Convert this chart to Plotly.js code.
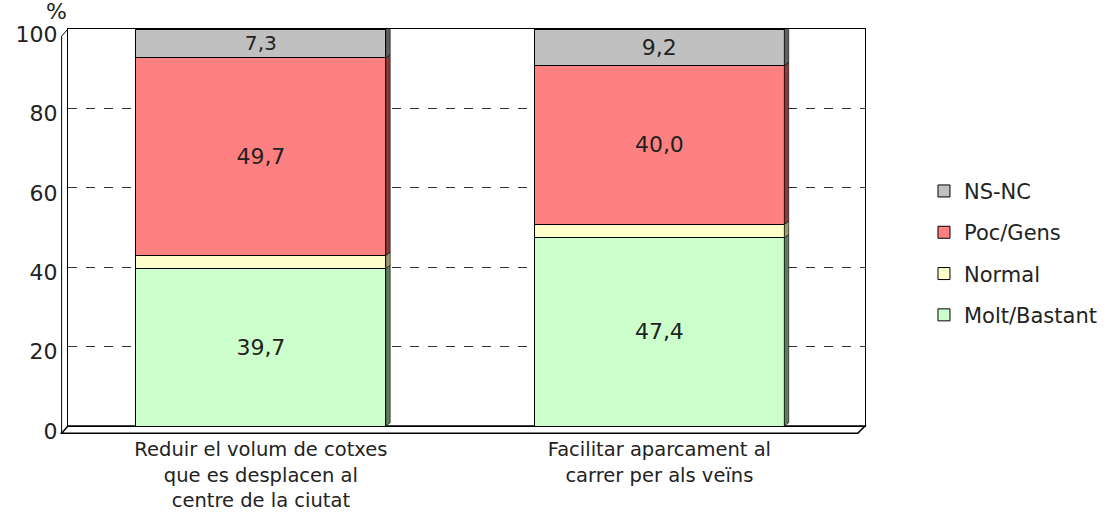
<!DOCTYPE html>
<html>
<head>
<meta charset="utf-8">
<script src="https://cdn.plot.ly/plotly-3.0.1.min.js"></script>
<style>html,body{margin:0;padding:0;background:#fff;}#chart{width:1107px;height:512px;}</style>
</head>
<body>
<div id="chart"></div>
<script>
const categories = ["Reduir el volum de cotxes<br>que es desplacen al<br>centre de la ciutat", "Facilitar aparcament al<br>carrer per als veïns"];
const seriesNames = ["Molt/Bastant", "Normal", "Poc/Gens", "NS-NC"];
const moltBastant = [39.7, 47.4];
const normal = [3.3, 3.4];
const pocGens = [49.7, 40.0];
const nsnc = [7.3, 9.2];
const showLabel = [true, false, true, true];
const yTicks = [0, 20, 40, 60, 80, 100];

const colors = ["#CCFFCC", "#FFFFCC", "#FF8080", "#C0C0C0"];
const sideColors = ["#5E7F5E", "#9A9A6A", "#8A3A3A", "#606060"];
const allSeries = [moltBastant, normal, pocGens, nsnc];
const barWidth = 0.627;
const FONT = "DejaVu Sans, Verdana, sans-serif";

const traces = allSeries.map((vals, i) => ({
  type: "bar",
  name: seriesNames[i],
  legendgroup: "g" + i,
  legendrank: 100 - i,
  x: [0, 1],
  y: vals,
  width: barWidth,
  marker: {color: colors[i], line: {color: "#000", width: 1}},
  text: showLabel[i] ? vals.map(v => v.toFixed(1).replace(".", ",")) : vals.map(() => ""),
  textposition: showLabel[i] ? "inside" : "none",
  insidetextanchor: "middle",
  textfont: {family: FONT, size: 22, color: "#222"},
  hoverinfo: "skip"
}));

// 3D side and top faces derived from the data
const dx = 0.011, dy = 0.8;
const shapes = [];
[0, 1].forEach(ci => {
  let base = 0;
  allSeries.forEach((vals, si) => {
    const top = base + vals[ci];
    shapes.push({type: "path", xref: "x", yref: "y",
      path: `M ${ci + barWidth/2} ${base} L ${ci + barWidth/2 + dx} ${base + dy} L ${ci + barWidth/2 + dx} ${top + dy} L ${ci + barWidth/2} ${top} Z`,
      fillcolor: sideColors[si], line: {color: "#000", width: 0.6}, layer: "above"});
    base = top;
  });
  shapes.push({type: "path", xref: "x", yref: "y",
    path: `M ${ci - barWidth/2} ${base} L ${ci - barWidth/2 + dx} ${base + dy} L ${ci + barWidth/2 + dx} ${base + dy} L ${ci + barWidth/2} ${base} Z`,
    fillcolor: "#808080", line: {color: "#000", width: 0.6}, layer: "above"});
});
// floor / left wall slant (frame decoration)
shapes.push({type: "path", xref: "paper", yref: "paper", path: "M -0.008 -0.018 L 0 0 L 1 0 L 0.991 -0.018 Z", fillcolor: "rgba(0,0,0,0)", line: {color: "#000", width: 1.5}, layer: "below"});
shapes.push({type: "line", xref: "paper", yref: "paper", x0: -0.008, y0: -0.018, x1: -0.008, y1: 0.982, line: {color: "#000", width: 1}});
shapes.push({type: "line", xref: "paper", yref: "paper", x0: -0.008, y0: 0.982, x1: 0, y1: 1, line: {color: "#000", width: 1}});

const layout = {
  width: 1107, height: 512,
  margin: {l: 68, r: 242, t: 29, b: 86, autoexpand: false},
  paper_bgcolor: "#fff", plot_bgcolor: "#fff",
  barmode: "stack",
  showlegend: true,
  font: {family: FONT, color: "#000"},
  xaxis: {
    range: [-0.484, 1.516],
    tickmode: "array", tickvals: [0, 1], ticktext: categories,
    tickfont: {family: FONT, size: 19.5, color: "#222"},
    ticklabelstandoff: 6,
    showline: true, mirror: true, linecolor: "#000", linewidth: 1,
    ticks: "", showgrid: false, zeroline: false, fixedrange: true
  },
  yaxis: {
    range: [0, 100],
    tickmode: "array", tickvals: yTicks, ticktext: yTicks.map(String),
    tickfont: {family: FONT, size: 22, color: "#222"},
    ticklabelshift: 5, ticklabelstandoff: 5,
    showline: true, mirror: true, linecolor: "#000", linewidth: 1,
    showgrid: true, gridcolor: "#000", griddash: "dash", gridwidth: 0.8,
    ticks: "", ticklen: 0, zeroline: false, fixedrange: true
  },
  legend: {
    x: 1.074, xanchor: "left", y: 0.435, yanchor: "middle",
    traceorder: "grouped", tracegroupgap: 11,
    font: {family: FONT, size: 21, color: "#222"},
    bgcolor: "rgba(0,0,0,0)"
  },
  annotations: [{
    text: "%", xref: "paper", yref: "paper", x: -0.014, y: 1.0, xanchor: "center", yanchor: "bottom",
    showarrow: false, font: {family: FONT, size: 22, color: "#222"}, yshift: 3
  }],
  shapes: shapes
};

Plotly.newPlot("chart", traces, layout, {displayModeBar: false, staticPlot: true});
</script>
</body>
</html>
